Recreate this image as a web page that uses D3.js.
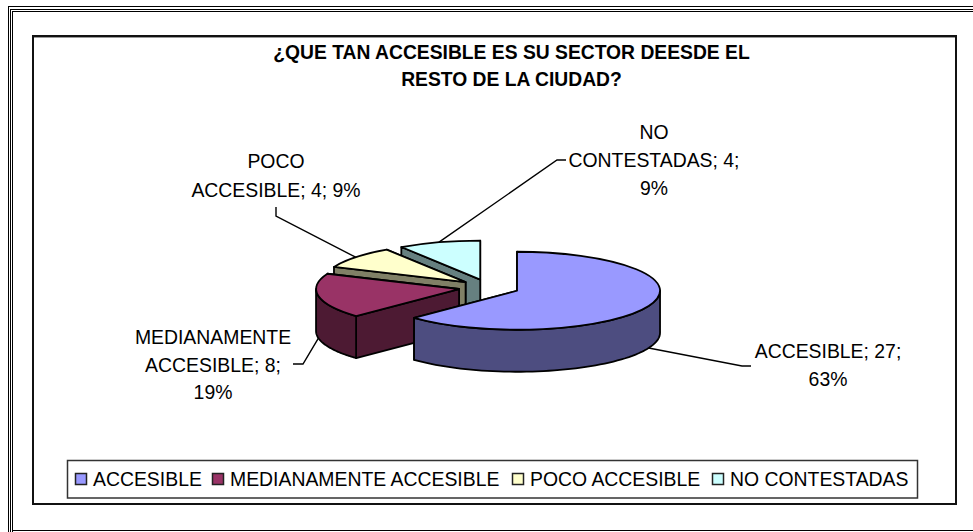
<!DOCTYPE html>
<html>
<head>
<meta charset="utf-8">
<script src="https://cdn.jsdelivr.net/npm/d3@7"></script>
<style>
  html, body { margin: 0; padding: 0; background: #fff; }
  text { font-family: "Liberation Sans", Arial, sans-serif; fill: #000; }
</style>
</head>
<body>
<div id="chart"></div>
<script>
// DATA
const categories = ["ACCESIBLE", "MEDIANAMENTE ACCESIBLE", "POCO ACCESIBLE", "NO CONTESTADAS"];
const values = [27, 8, 4, 4];
const percents = ["63%", "19%", "9%", "9%"];
const titleLines = ["¿QUE TAN ACCESIBLE ES SU SECTOR DEESDE EL", "RESTO DE LA CIUDAD?"];
const topColors = ["#9999ff", "#993366", "#ffffcc", "#ccffff"];
const wallColors = ["#4d4d80", "#4d1a33", "#808066", "#668080"];

// CONSTANTS
const WIDTH = 973;
const HEIGHT = 532;
const CX = 489;
const CY = 287.5;
const RX = 143;
const RY = 39;
const DEPTH = 42;
const EXPLODE = 0.213;
const FONT_SIZE = 19.4;

const svg = d3.select("#chart")
  .append("svg")
  .attr("width", WIDTH)
  .attr("height", HEIGHT)
  .style("display", "block");

// PAGE FRAME
const frameLine = (x1, y1, x2, y2, w, color) => svg.append("line")
  .attr("x1", x1).attr("y1", y1).attr("x2", x2).attr("y2", y2)
  .attr("stroke", color || "#000").attr("stroke-width", w);

[8.5, 10.5, 12.5].forEach((x, i) => frameLine(x, [6, 9, 11.5][i], x, HEIGHT, 1));
[6.5, 9.5, 11.5].forEach((y, i) => frameLine([8, 10, 12][i], y, WIDTH, y, 1));
frameLine(12.5, 530.5, WIDTH, 530.5, 1);

// CHART BOX
svg.append("rect")
  .attr("x", 33).attr("y", 36).attr("width", 923).attr("height", 468)
  .attr("fill", "#fff").attr("stroke", "#111").attr("stroke-width", 2);
frameLine(34, 37.5, 955, 37.5, 1, "#999");

svg.append("g")
  .selectAll("text")
  .data(titleLines)
  .enter()
  .append("text")
  .attr("x", 511.5)
  .attr("y", (d, i) => 59 + i * 27)
  .attr("text-anchor", "middle")
  .attr("font-size", 19.3)
  .attr("font-weight", "bold")
  .text(d => d);

// PIE
const pie = d3.pie().sort(null)(values);
const arc = d3.arc().innerRadius(0).outerRadius(RX);
const slices = pie.map((p, i) => {
  const mid = (p.startAngle + p.endAngle) / 2;
  return {
    ...p,
    index: i,
    mid,
    ox: CX + Math.sin(mid) * EXPLODE * RX,
    oy: CY - Math.cos(mid) * EXPLODE * RY,
  };
});

const rimPoint = (s, a, drop) => [
  s.ox + Math.sin(a) * RX,
  s.oy - Math.cos(a) * RY + drop,
];
const polyLine = d3.line();

// back slices first so the front ones cover them
const pieG = svg.append("g")
  .attr("stroke", "#000")
  .attr("stroke-width", 1.8)
  .attr("stroke-linejoin", "round");

[3, 2, 1, 0].forEach(i => {
  const s = slices[i];
  const g = pieG.append("g").attr("fill", wallColors[i]);

  [s.endAngle, s.startAngle].forEach(a => {
    g.append("path").attr("d", polyLine([
      [s.ox, s.oy],
      rimPoint(s, a, 0),
      rimPoint(s, a, DEPTH),
      [s.ox, s.oy + DEPTH],
    ]) + "Z");
  });

  const from = Math.max(s.startAngle, Math.PI / 2);
  const to = Math.min(s.endAngle, Math.PI * 1.5);
  if (to > from) {
    const steps = d3.range(0, 61).map(k => from + (to - from) * k / 60);
    const outer = steps.map(a => rimPoint(s, a, 0))
      .concat(steps.slice().reverse().map(a => rimPoint(s, a, DEPTH)));
    g.append("path").attr("d", polyLine(outer) + "Z");
  }

  g.append("path")
    .attr("d", arc(s))
    .attr("transform", `translate(${s.ox},${s.oy}) scale(1,${RY / RX})`)
    .attr("vector-effect", "non-scaling-stroke")
    .attr("fill", topColors[i]);
});

// DATA LABELS
const wrapLabels = [
  [`${categories[0]}; ${values[0]};`, percents[0]],
  ["MEDIANAMENTE", `ACCESIBLE; ${values[1]};`, percents[1]],
  ["POCO", `ACCESIBLE; ${values[2]}; ${percents[2]}`],
  ["NO", `CONTESTADAS; ${values[3]};`, percents[3]],
];
const labelX = [828, 213, 276, 654];
const labelY = [358, 344, 168, 139];
const labelStep = [28, 27.5, 29, 28];
// where each leader leaves the label, then its elbow
const leaderEnds = [
  [[751, 366], [742, 366]],
  [[293, 364], [303, 364]],
  [[276, 207], [276, 216]],
  [[566, 160], [557, 160]],
];

slices.forEach((s, i) => {
  const drop = Math.cos(s.mid) < 0 ? DEPTH : 0;
  svg.append("path")
    .attr("d", polyLine([...leaderEnds[i], rimPoint(s, s.mid, drop)]))
    .attr("fill", "none")
    .attr("stroke", "#000")
    .attr("stroke-width", 1.4);

  svg.append("g")
    .selectAll("text")
    .data(wrapLabels[i])
    .enter()
    .append("text")
    .attr("x", labelX[i])
    .attr("y", (d, k) => labelY[i] + k * labelStep[i])
    .attr("text-anchor", "middle")
    .attr("font-size", FONT_SIZE)
    .text(d => d);
});

// LEGEND
svg.append("rect")
  .attr("x", 67.5).attr("y", 460.5).attr("width", 850).attr("height", 37.5)
  .attr("fill", "#fff").attr("stroke", "#333").attr("stroke-width", 1.5);

const legendX = [75, 212, 512, 712];
const legend = svg.append("g")
  .selectAll("g")
  .data(categories)
  .enter()
  .append("g")
  .attr("transform", (d, i) => `translate(${legendX[i]},473)`);

legend.append("rect")
  .attr("x", 0.5).attr("y", 0.5).attr("width", 11).attr("height", 11)
  .attr("fill", (d, i) => topColors[i])
  .attr("stroke", "#222")
  .attr("stroke-width", 1.5);

legend.append("text")
  .attr("x", 18)
  .attr("y", 13)
  .attr("font-size", FONT_SIZE)
  .text(d => d);
</script>
</body>
</html>
